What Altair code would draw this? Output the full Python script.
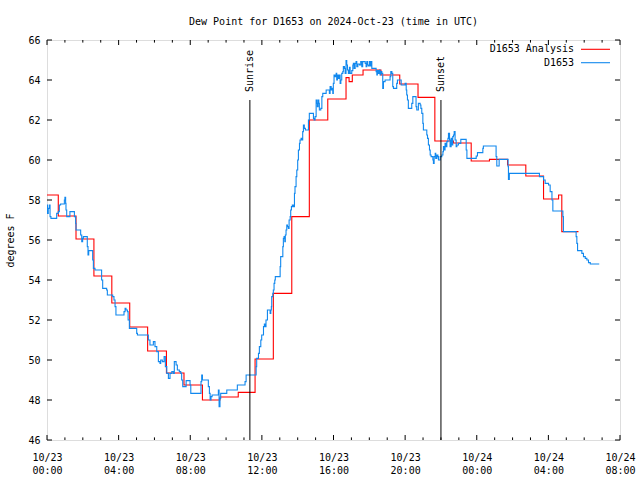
import altair as alt
import pandas as pd

TITLE = "Dew Point for D1653 on 2024-Oct-23 (time in UTC)"
FONT = "DejaVu Sans Mono"

# hours after 2024-10-23 00:00 UTC
obs_t = [0.00, 0.03, 0.07, 0.13, 0.17, 0.22, 0.54, 0.63, 0.69, 0.76, 0.97, 1.00, 1.04, 1.06, 1.10,
         1.28, 1.53, 1.60, 1.62, 1.88, 1.94, 1.99, 2.03, 2.25, 2.29, 2.33, 2.55, 2.59, 2.68, 3.05,
         3.11, 3.33, 3.37, 3.67, 3.74, 3.80, 3.85, 4.30, 4.36, 4.41, 4.49, 4.53, 4.60, 5.01, 5.05,
         5.66, 5.75, 5.94, 6.03, 6.13, 6.22, 6.31, 6.35, 6.44, 6.54, 6.61, 6.69, 6.78, 6.87, 6.97,
         7.06, 7.11, 7.21, 7.28, 7.39, 7.47, 7.52, 7.58, 7.77, 7.99, 8.03, 8.60, 8.64, 8.68, 9.01,
         9.07, 9.11, 9.16, 9.22, 9.57, 9.61, 9.66, 9.70, 10.04, 10.63, 11.06, 11.12, 11.68, 11.71, 11.81,
         11.86, 11.94, 11.99, 12.09, 12.14, 12.20, 12.23, 12.31, 12.46, 12.50, 12.53, 12.55, 12.61, 12.64, 12.68,
         12.72, 12.75, 13.02, 13.05, 13.17, 13.20, 13.24, 13.28, 13.31, 13.35, 13.39, 13.43, 13.48, 13.52, 13.58,
         13.61, 13.65, 13.70, 13.76, 13.82, 13.85, 13.91, 13.95, 14.00, 14.04, 14.10, 14.13, 14.19, 14.25, 14.28,
         14.32, 14.37, 14.43, 14.60, 14.65, 14.88, 14.92, 14.97, 15.03, 15.07, 15.10, 15.14, 15.18, 15.21, 15.29,
         15.35, 15.40, 15.59, 15.77, 15.81, 15.87, 15.92, 15.96, 15.99, 16.03, 16.09, 16.15, 16.18, 16.22, 16.27,
         16.33, 16.37, 16.41, 16.46, 16.52, 16.55, 16.61, 16.65, 16.70, 16.74, 16.78, 16.83, 16.89, 16.93, 17.02,
         17.08, 17.11, 17.15, 17.21, 17.26, 17.30, 17.36, 17.45, 17.52, 17.58, 17.63, 17.77, 17.82, 17.86, 17.90,
         17.95, 18.00, 18.04, 18.08, 18.14, 18.38, 18.42, 18.45, 18.51, 18.57, 18.60, 18.64, 18.70, 18.75, 18.79,
         18.88, 19.16, 19.20, 19.26, 19.31, 19.35, 19.53, 19.57, 19.78, 20.00, 20.06, 20.09, 20.13, 20.18, 20.37,
         20.43, 20.61, 20.65, 20.74, 20.84, 20.88, 20.93, 20.99, 21.02, 21.21, 21.25, 21.30, 21.36, 21.40, 21.45,
         21.55, 21.58, 21.62, 21.68, 21.71, 21.77, 21.83, 21.86, 21.96, 22.05, 22.11, 22.14, 22.18, 22.23, 22.29,
         22.33, 22.39, 22.42, 22.48, 22.51, 22.57, 22.61, 22.66, 22.70, 22.74, 22.79, 22.85, 22.89, 22.98, 23.11,
         23.41, 23.45, 23.97, 24.04, 24.34, 24.37, 25.08, 25.12, 25.25, 25.75, 25.77, 25.82, 27.50, 27.73, 27.82,
         28.01, 28.10, 28.20, 28.25, 28.81, 28.84, 29.55, 29.59, 29.63, 29.87, 29.96, 30.06, 30.15, 30.24, 30.34,
         30.84]
obs_v = [57.75, 57.33, 57.58, 57.75, 57.17, 57.08, 57.33, 57.42, 57.75, 57.80, 58.00, 58.13, 57.83, 57.50, 57.17,
         57.42, 57.17, 56.83, 56.50, 56.25, 55.92, 56.08, 56.17, 55.67, 55.25, 55.47, 55.00, 54.58, 54.50, 54.00,
         53.58, 53.50, 53.25, 53.17, 53.00, 52.67, 52.25, 52.42, 52.58, 52.50, 52.42, 52.00, 51.58, 51.33, 51.25,
         51.00, 50.75, 50.92, 50.67, 50.42, 49.92, 49.83, 50.00, 49.92, 50.17, 49.67, 49.33, 49.08, 49.33, 49.42,
         49.33, 49.92, 49.75, 49.50, 49.42, 49.33, 49.00, 48.67, 48.97, 48.75, 48.33, 48.92, 49.25, 49.00, 48.67,
         48.33, 48.00, 48.17, 48.25, 48.50, 47.67, 48.08, 48.33, 48.50, 48.75, 48.92, 49.25, 49.67, 50.08, 50.33,
         50.67, 51.00, 51.25, 51.67, 51.80, 51.67, 52.00, 52.50, 52.33, 52.50, 52.67, 53.17, 53.33, 53.50, 53.83,
         54.00, 54.17, 54.67, 55.17, 55.67, 56.08, 56.17, 55.92, 56.25, 56.50, 56.75, 56.67, 56.58, 57.00, 57.17,
         57.50, 57.67, 57.75, 57.67, 58.33, 58.67, 59.17, 59.50, 60.00, 60.50, 60.83, 61.00, 61.08, 61.00, 61.42,
         61.75, 61.58, 61.50, 62.00, 62.33, 62.08, 62.00, 62.17, 63.00, 62.83, 62.67, 63.00, 62.83, 62.50, 62.58,
         63.17, 63.33, 63.50, 63.33, 63.67, 63.50, 63.58, 63.33, 63.83, 64.25, 64.17, 64.33, 64.00, 64.25, 64.08,
         64.25, 63.83, 64.00, 64.33, 64.42, 64.67, 64.58, 64.33, 64.97, 64.75, 64.50, 64.33, 64.63, 64.33, 64.47,
         64.75, 64.83, 64.58, 64.83, 64.92, 64.67, 64.80, 64.75, 64.92, 64.67, 64.92, 64.83, 64.67, 64.92, 64.75,
         64.70, 64.92, 64.70, 64.92, 64.58, 64.42, 64.25, 64.47, 64.33, 64.50, 64.25, 64.42, 64.33, 63.58, 63.92,
         64.00, 64.17, 64.42, 64.33, 63.67, 63.58, 63.83, 64.00, 63.75, 63.83, 63.50, 63.25, 63.00, 62.58, 62.83,
         63.17, 62.67, 62.50, 62.83, 62.75, 62.58, 62.33, 61.83, 61.50, 61.25, 61.08, 60.75, 60.50, 60.25, 60.17,
         60.00, 59.83, 60.17, 60.33, 60.08, 60.25, 60.17, 60.00, 60.17, 60.25, 60.42, 60.67, 60.50, 60.83, 60.67,
         60.92, 61.08, 61.33, 61.00, 60.67, 61.08, 60.75, 61.17, 61.25, 61.42, 61.00, 60.67, 60.75, 60.83, 61.03,
         60.50, 60.08, 60.20, 60.37, 60.58, 60.70, 60.17, 59.70, 60.03, 59.67, 59.03, 59.33, 59.17, 59.00, 58.83,
         58.75, 58.42, 58.00, 57.45, 57.17, 56.42, 56.17, 55.83, 55.47, 55.33, 55.17, 55.08, 55.00, 54.87, 54.80,
         54.80]

ana_t = [0.00, 0.63, 1.62, 2.62, 3.62, 4.62, 5.62, 6.67, 7.65, 8.68, 9.66, 10.68, 11.62, 12.64, 13.67,
         14.65, 15.68, 16.70, 16.87, 17.05, 17.65, 18.65, 19.70, 20.72, 21.66, 22.70, 23.69, 24.71, 25.72, 26.74,
         27.73, 28.57, 28.75, 29.68]
ana_v = [58.25, 57.20, 56.05, 54.20, 52.85, 51.65, 50.45, 49.35, 48.75, 48.00, 48.15, 48.38, 50.05, 53.33, 57.17,
         62.00, 63.05, 64.12, 63.92, 64.25, 64.50, 64.25, 63.80, 63.13, 60.95, 60.85, 59.95, 60.03, 59.75, 59.20,
         58.05, 58.25, 56.42, 56.42]

sun_t = [11.33, 22.0]
sun_label = ["Sunrise", "Sunset"]
sun_top = 63.0

x_major = list(range(0, 33, 4))
x_minor = [h for h in range(0, 33) if h % 4]
y_ticks = list(range(46, 67, 2))

RED = "#ff0000"
BLUE = "#1188ee"

xs = alt.Scale(domain=[0, 32], nice=False, zero=False)
ys = alt.Scale(domain=[46, 66], nice=False, zero=False)

obs = pd.DataFrame({"t": obs_t, "v": obs_v})
ana = pd.DataFrame({"t": ana_t, "v": ana_v})
sun = pd.DataFrame({"t": sun_t, "label": sun_label})
xmaj = pd.DataFrame({"t": x_major})
xmin = pd.DataFrame({"t": x_minor})
yt = pd.DataFrame({"v": y_ticks})

label_expr = ("[datum.value < 24 ? '10/23' : '10/24', "
              "(datum.value % 24 < 10 ? '0' : '') + (datum.value % 24) + ':00']")

x_axis = alt.Axis(values=x_major, labelExpr=label_expr, ticks=False, domain=False, grid=False,
                  labelFont=FONT, labelFontSize=10, labelColor="black", labelPadding=12,
                  labelBaseline="top", labelLineHeight=13, labelFlush=False, labelOverlap=False,
                  title=None)
y_axis = alt.Axis(values=y_ticks, ticks=False, domain=False, grid=False,
                  labelFont=FONT, labelFontSize=10, labelColor="black", labelPadding=7,
                  labelFlush=False, labelOverlap=False,
                  title="degrees F", titleFont=FONT, titleFontSize=10, titleFontWeight="normal",
                  titleColor="black", titleX=-37, titleY=200, titleAngle=270,
                  titleAlign="center", titleBaseline="middle")

XF = alt.X("t:Q", scale=xs, axis=x_axis)
YF = alt.Y("v:Q", scale=ys, axis=y_axis)

ana_line = alt.Chart(ana).mark_line(interpolate="step-after", color=RED, strokeWidth=1.1).encode(
    x=XF, y=YF)
obs_line = alt.Chart(obs).mark_line(interpolate="step-after", color=BLUE, strokeWidth=1.1).encode(
    x=XF, y=YF)

sun_rule = alt.Chart(sun).mark_rule(color="black", strokeWidth=1).encode(
    x=XF,
    y=alt.Y(datum=sun_top, scale=ys, axis=y_axis),
    y2=alt.Y2(datum=46),
)
sun_text = alt.Chart(sun).mark_text(angle=270, align="left", baseline="middle", dx=8,
                                    font=FONT, fontSize=10, color="black").encode(
    x=XF,
    y=alt.Y(datum=sun_top, scale=ys, axis=y_axis),
    text="label:N",
)

def xticks(df, y0, y1):
    return alt.Chart(df).mark_rule(color="black", strokeWidth=1).encode(
        x=XF,
        y=alt.Y(datum=y0, scale=ys, axis=y_axis),
        y2=alt.Y2(datum=y1),
    )

def yticks(x0, x1):
    return alt.Chart(yt).mark_rule(color="black", strokeWidth=1).encode(
        y=YF,
        x=alt.X(datum=x0, scale=xs, axis=x_axis),
        x2=alt.X2(datum=x1),
    )

ticks = [
    xticks(xmaj, 46, 46.25), xticks(xmin, 46, 46.13),
    xticks(xmaj, 66, 65.75), xticks(xmin, 66, 65.87),
    yticks(0, 0.28), yticks(32, 31.72),
]

leg_items = []
for i, (name, col) in enumerate([("D1653 Analysis", RED), ("D1653", BLUE)]):
    ypix = 9.3 + i * 13.4
    d = pd.DataFrame({"name": [name]})
    leg_items.append(alt.Chart(d).mark_text(align="right", baseline="middle", font=FONT,
                                            fontSize=10, color="black").encode(
        x=alt.value(527), y=alt.value(ypix), text="name:N"))
    leg_items.append(alt.Chart(d).mark_rule(color=col, strokeWidth=1.1).encode(
        x=alt.value(534), x2=alt.value(563), y=alt.value(ypix)))

chart = alt.layer(ana_line, obs_line, sun_rule, sun_text, *ticks, *leg_items).properties(
    width=573, height=400,
    autosize=alt.AutoSizeParams(type="none"),
    padding={"left": 47, "top": 40, "right": 20, "bottom": 40},
    title=alt.TitleParams(TITLE, font=FONT, fontSize=10, fontWeight="normal", color="black",
                          anchor="middle", baseline="bottom", offset=0, dy=2),
).configure_view(stroke="black", strokeWidth=1).configure(background="white")

chart.save("out.html", embed_options={"renderer": "svg", "actions": False})
